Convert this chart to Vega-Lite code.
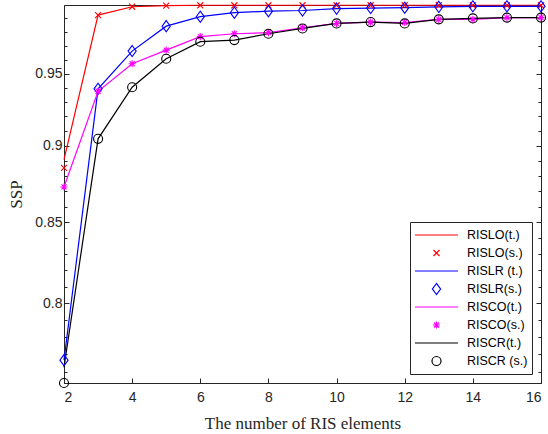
{
  "$schema": "https://vega.github.io/schema/vega-lite/v6.json",
  "width": 477,
  "height": 378,
  "autosize": "none",
  "padding": {"left": 64, "top": 5, "right": 7, "bottom": 51},
  "background": "white",
  "config": {
    "view": {"stroke": "#262626", "strokeWidth": 1},
    "axis": {
      "grid": false,
      "domainColor": "#262626",
      "domainWidth": 1,
      "tickColor": "#262626",
      "tickWidth": 1,
      "labelColor": "#262626",
      "labelFont": "Liberation Sans",
      "labelFontSize": 14,
      "titleFont": "Liberation Serif",
      "titleFontSize": 17,
      "titleFontWeight": "normal",
      "titleColor": "#262626"
    }
  },
  "data": {
    "values": [
      {"n": 2, "ssp": 0.8907, "series": "RISLO(t.)"},
      {"n": 3, "ssp": 0.9925, "series": "RISLO(t.)"},
      {"n": 4, "ssp": 0.9987, "series": "RISLO(t.)"},
      {"n": 5, "ssp": 0.9996, "series": "RISLO(t.)"},
      {"n": 6, "ssp": 0.9998, "series": "RISLO(t.)"},
      {"n": 7, "ssp": 0.9998, "series": "RISLO(t.)"},
      {"n": 8, "ssp": 0.9998, "series": "RISLO(t.)"},
      {"n": 9, "ssp": 0.9998, "series": "RISLO(t.)"},
      {"n": 10, "ssp": 0.9998, "series": "RISLO(t.)"},
      {"n": 11, "ssp": 0.9998, "series": "RISLO(t.)"},
      {"n": 12, "ssp": 0.9998, "series": "RISLO(t.)"},
      {"n": 13, "ssp": 0.9998, "series": "RISLO(t.)"},
      {"n": 14, "ssp": 0.9998, "series": "RISLO(t.)"},
      {"n": 15, "ssp": 0.9998, "series": "RISLO(t.)"},
      {"n": 16, "ssp": 0.9998, "series": "RISLO(t.)"},
      {"n": 2, "ssp": 0.8852, "series": "RISLO(s.)"},
      {"n": 3, "ssp": 0.9925, "series": "RISLO(s.)"},
      {"n": 4, "ssp": 0.9987, "series": "RISLO(s.)"},
      {"n": 5, "ssp": 0.9996, "series": "RISLO(s.)"},
      {"n": 6, "ssp": 0.9998, "series": "RISLO(s.)"},
      {"n": 7, "ssp": 0.9998, "series": "RISLO(s.)"},
      {"n": 8, "ssp": 0.9998, "series": "RISLO(s.)"},
      {"n": 9, "ssp": 0.9998, "series": "RISLO(s.)"},
      {"n": 10, "ssp": 0.9998, "series": "RISLO(s.)"},
      {"n": 11, "ssp": 0.9998, "series": "RISLO(s.)"},
      {"n": 12, "ssp": 0.9998, "series": "RISLO(s.)"},
      {"n": 13, "ssp": 0.9998, "series": "RISLO(s.)"},
      {"n": 14, "ssp": 0.9998, "series": "RISLO(s.)"},
      {"n": 15, "ssp": 0.9998, "series": "RISLO(s.)"},
      {"n": 16, "ssp": 0.9998, "series": "RISLO(s.)"},
      {"n": 2, "ssp": 0.7666, "series": "RISLR (t.)"},
      {"n": 3, "ssp": 0.9392, "series": "RISLR (t.)"},
      {"n": 4, "ssp": 0.9661, "series": "RISLR (t.)"},
      {"n": 5, "ssp": 0.9843, "series": "RISLR (t.)"},
      {"n": 6, "ssp": 0.9913, "series": "RISLR (t.)"},
      {"n": 7, "ssp": 0.9943, "series": "RISLR (t.)"},
      {"n": 8, "ssp": 0.9954, "series": "RISLR (t.)"},
      {"n": 9, "ssp": 0.9959, "series": "RISLR (t.)"},
      {"n": 10, "ssp": 0.9973, "series": "RISLR (t.)"},
      {"n": 11, "ssp": 0.9977, "series": "RISLR (t.)"},
      {"n": 12, "ssp": 0.998, "series": "RISLR (t.)"},
      {"n": 13, "ssp": 0.9986, "series": "RISLR (t.)"},
      {"n": 14, "ssp": 0.999, "series": "RISLR (t.)"},
      {"n": 15, "ssp": 0.999, "series": "RISLR (t.)"},
      {"n": 16, "ssp": 0.999, "series": "RISLR (t.)"},
      {"n": 2, "ssp": 0.7666, "series": "RISLR(s.)"},
      {"n": 3, "ssp": 0.9392, "series": "RISLR(s.)"},
      {"n": 4, "ssp": 0.9661, "series": "RISLR(s.)"},
      {"n": 5, "ssp": 0.9843, "series": "RISLR(s.)"},
      {"n": 6, "ssp": 0.9913, "series": "RISLR(s.)"},
      {"n": 7, "ssp": 0.9943, "series": "RISLR(s.)"},
      {"n": 8, "ssp": 0.9954, "series": "RISLR(s.)"},
      {"n": 9, "ssp": 0.9959, "series": "RISLR(s.)"},
      {"n": 10, "ssp": 0.9973, "series": "RISLR(s.)"},
      {"n": 11, "ssp": 0.9977, "series": "RISLR(s.)"},
      {"n": 12, "ssp": 0.998, "series": "RISLR(s.)"},
      {"n": 13, "ssp": 0.9986, "series": "RISLR(s.)"},
      {"n": 14, "ssp": 0.999, "series": "RISLR(s.)"},
      {"n": 15, "ssp": 0.999, "series": "RISLR(s.)"},
      {"n": 16, "ssp": 0.999, "series": "RISLR(s.)"},
      {"n": 2, "ssp": 0.8727, "series": "RISCO(t.)"},
      {"n": 3, "ssp": 0.9375, "series": "RISCO(t.)"},
      {"n": 4, "ssp": 0.957, "series": "RISCO(t.)"},
      {"n": 5, "ssp": 0.9668, "series": "RISCO(t.)"},
      {"n": 6, "ssp": 0.9766, "series": "RISCO(t.)"},
      {"n": 7, "ssp": 0.9787, "series": "RISCO(t.)"},
      {"n": 8, "ssp": 0.9795, "series": "RISCO(t.)"},
      {"n": 9, "ssp": 0.9831, "series": "RISCO(t.)"},
      {"n": 10, "ssp": 0.9863, "series": "RISCO(t.)"},
      {"n": 11, "ssp": 0.9873, "series": "RISCO(t.)"},
      {"n": 12, "ssp": 0.987, "series": "RISCO(t.)"},
      {"n": 13, "ssp": 0.9893, "series": "RISCO(t.)"},
      {"n": 14, "ssp": 0.9893, "series": "RISCO(t.)"},
      {"n": 15, "ssp": 0.9906, "series": "RISCO(t.)"},
      {"n": 16, "ssp": 0.9906, "series": "RISCO(t.)"},
      {"n": 2, "ssp": 0.8727, "series": "RISCO(s.)"},
      {"n": 3, "ssp": 0.9375, "series": "RISCO(s.)"},
      {"n": 4, "ssp": 0.957, "series": "RISCO(s.)"},
      {"n": 5, "ssp": 0.9668, "series": "RISCO(s.)"},
      {"n": 6, "ssp": 0.9766, "series": "RISCO(s.)"},
      {"n": 7, "ssp": 0.9787, "series": "RISCO(s.)"},
      {"n": 8, "ssp": 0.9795, "series": "RISCO(s.)"},
      {"n": 9, "ssp": 0.9831, "series": "RISCO(s.)"},
      {"n": 10, "ssp": 0.9863, "series": "RISCO(s.)"},
      {"n": 11, "ssp": 0.9873, "series": "RISCO(s.)"},
      {"n": 12, "ssp": 0.987, "series": "RISCO(s.)"},
      {"n": 13, "ssp": 0.9893, "series": "RISCO(s.)"},
      {"n": 14, "ssp": 0.9893, "series": "RISCO(s.)"},
      {"n": 15, "ssp": 0.9906, "series": "RISCO(s.)"},
      {"n": 16, "ssp": 0.9906, "series": "RISCO(s.)"},
      {"n": 2, "ssp": 0.7625, "series": "RISCR(t.)"},
      {"n": 3, "ssp": 0.9047, "series": "RISCR(t.)"},
      {"n": 4, "ssp": 0.9403, "series": "RISCR(t.)"},
      {"n": 5, "ssp": 0.9606, "series": "RISCR(t.)"},
      {"n": 6, "ssp": 0.9729, "series": "RISCR(t.)"},
      {"n": 7, "ssp": 0.9741, "series": "RISCR(t.)"},
      {"n": 8, "ssp": 0.9787, "series": "RISCR(t.)"},
      {"n": 9, "ssp": 0.9826, "series": "RISCR(t.)"},
      {"n": 10, "ssp": 0.9863, "series": "RISCR(t.)"},
      {"n": 11, "ssp": 0.9873, "series": "RISCR(t.)"},
      {"n": 12, "ssp": 0.9863, "series": "RISCR(t.)"},
      {"n": 13, "ssp": 0.9893, "series": "RISCR(t.)"},
      {"n": 14, "ssp": 0.99, "series": "RISCR(t.)"},
      {"n": 15, "ssp": 0.9906, "series": "RISCR(t.)"},
      {"n": 16, "ssp": 0.9906, "series": "RISCR(t.)"},
      {"n": 2, "ssp": 0.7536, "series": "RISCR (s.)"},
      {"n": 3, "ssp": 0.9047, "series": "RISCR (s.)"},
      {"n": 4, "ssp": 0.9403, "series": "RISCR (s.)"},
      {"n": 5, "ssp": 0.9606, "series": "RISCR (s.)"},
      {"n": 6, "ssp": 0.9729, "series": "RISCR (s.)"},
      {"n": 7, "ssp": 0.9741, "series": "RISCR (s.)"},
      {"n": 8, "ssp": 0.9787, "series": "RISCR (s.)"},
      {"n": 9, "ssp": 0.9826, "series": "RISCR (s.)"},
      {"n": 10, "ssp": 0.9863, "series": "RISCR (s.)"},
      {"n": 11, "ssp": 0.9873, "series": "RISCR (s.)"},
      {"n": 12, "ssp": 0.9863, "series": "RISCR (s.)"},
      {"n": 13, "ssp": 0.9893, "series": "RISCR (s.)"},
      {"n": 14, "ssp": 0.99, "series": "RISCR (s.)"},
      {"n": 15, "ssp": 0.9906, "series": "RISCR (s.)"},
      {"n": 16, "ssp": 0.9906, "series": "RISCR (s.)"}
    ]
  },
  "layer": [
    {
      "transform": [{"filter": "indexof(datum.series, '(t.)') >= 0"}],
      "mark": {"type": "line", "strokeWidth": 1.2},
      "encoding": {
        "x": {
          "field": "n", "type": "quantitative",
          "scale": {"domain": [2, 16], "nice": false, "zero": false},
          "axis": {
            "values": [2, 4, 6, 8, 10, 12, 14, 16],
            "tickSize": -5,
            "labelPadding": 12,
            "title": "The number of RIS elements",
            "titlePadding": 11
          }
        },
        "y": {
          "field": "ssp", "type": "quantitative",
          "scale": {"type": "log", "domain": [0.7536, 1], "nice": false, "zero": false},
          "axis": {
            "orient": "left",
            "values": [0.76, 0.77, 0.78, 0.79, 0.8, 0.81, 0.82, 0.83, 0.84, 0.85, 0.86, 0.87, 0.88, 0.89, 0.9, 0.91, 0.92, 0.93, 0.94, 0.95, 0.96, 0.97, 0.98, 0.99],
            "format": ".2~f",
            "labelExpr": "indexof([0.8, 0.85, 0.9, 0.95], datum.value) >= 0 ? datum.label : ''",
            "tickSize": {"condition": {"test": "indexof([0.8, 0.85, 0.9, 0.95], datum.value) >= 0", "value": -5}, "value": -3},
            "labelPadding": 7,
            "title": "SSP",
            "titlePadding": 9
          }
        },
        "color": {
          "field": "series", "type": "nominal",
          "scale": {
            "domain": ["RISLO(t.)", "RISLO(s.)", "RISLR (t.)", "RISLR(s.)", "RISCO(t.)", "RISCO(s.)", "RISCR(t.)", "RISCR (s.)"],
            "range": ["#ff0000", "#ff0000", "#0000ff", "#0000ff", "#ff00ff", "#ff00ff", "#000000", "#000000"]
          },
          "legend": {
            "orient": "bottom-right", "offset": 9, "title": null,
            "symbolSize": 1849, "clipHeight": 18, "rowPadding": 0, "padding": 4,
            "labelOffset": 8, "strokeColor": "#262626", "fillColor": "white",
            "labelFont": "Liberation Sans", "labelFontSize": 12.5, "labelColor": "#000000",
            "symbolStrokeWidth": 1.2
          }
        }
      }
    },
    {
      "transform": [{"filter": "indexof(datum.series, '(s.)') >= 0"}],
      "mark": {"type": "point", "filled": false, "size": 1849, "strokeWidth": 1.1, "opacity": 1},
      "encoding": {
        "x": {
          "field": "n", "type": "quantitative",
          "scale": {"domain": [2, 16], "nice": false, "zero": false}
        },
        "y": {
          "field": "ssp", "type": "quantitative",
          "scale": {"type": "log", "domain": [0.7536, 1], "nice": false, "zero": false},
          "axis": {
            "orient": "right",
            "values": [0.76, 0.77, 0.78, 0.79, 0.8, 0.81, 0.82, 0.83, 0.84, 0.85, 0.86, 0.87, 0.88, 0.89, 0.9, 0.91, 0.92, 0.93, 0.94, 0.95, 0.96, 0.97, 0.98, 0.99],
            "labels": false,
            "tickSize": {"condition": {"test": "indexof([0.8, 0.85, 0.9, 0.95], datum.value) >= 0", "value": -5}, "value": -3},
            "title": null
          }
        },
        "color": {
          "field": "series", "type": "nominal",
          "scale": {
            "domain": ["RISLO(t.)", "RISLO(s.)", "RISLR (t.)", "RISLR(s.)", "RISCO(t.)", "RISCO(s.)", "RISCR(t.)", "RISCR (s.)"],
            "range": ["#ff0000", "#ff0000", "#0000ff", "#0000ff", "#ff00ff", "#ff00ff", "#000000", "#000000"]
          },
          "legend": {
            "orient": "bottom-right", "offset": 9, "title": null,
            "symbolSize": 1849, "clipHeight": 18, "rowPadding": 0, "padding": 4,
            "labelOffset": 8, "strokeColor": "#262626", "fillColor": "white",
            "labelFont": "Liberation Sans", "labelFontSize": 12.5, "labelColor": "#000000",
            "symbolStrokeWidth": 1.2
          }
        },
        "shape": {
          "field": "series", "type": "nominal",
          "scale": {
            "domain": ["RISLO(t.)", "RISLO(s.)", "RISLR (t.)", "RISLR(s.)", "RISCO(t.)", "RISCO(s.)", "RISCR(t.)", "RISCR (s.)"],
            "range": [
              "M-1,0L1,0",
              "M-0.14,-0.14L0.14,0.14M-0.14,0.14L0.14,-0.14",
              "M-1,0L1,0",
              "M0,-0.26L0.19,0L0,0.26L-0.19,0Z",
              "M-1,0L1,0",
              "M-0.165,0L0.165,0M0,-0.165L0,0.165M-0.117,-0.117L0.117,0.117M-0.117,0.117L0.117,-0.117",
              "M-1,0L1,0",
              "M0.21,0A0.21,0.21,0,1,1,-0.21,0A0.21,0.21,0,1,1,0.21,0Z"
            ]
          },
          "legend": {
            "orient": "bottom-right", "offset": 9, "title": null,
            "symbolSize": 1849, "clipHeight": 18, "rowPadding": 0, "padding": 4,
            "labelOffset": 8, "strokeColor": "#262626", "fillColor": "white",
            "labelFont": "Liberation Sans", "labelFontSize": 12.5, "labelColor": "#000000",
            "symbolStrokeWidth": 1.2
          }
        }
      }
    }
  ],
  "resolve": {"axis": {"y": "independent"}}
}
